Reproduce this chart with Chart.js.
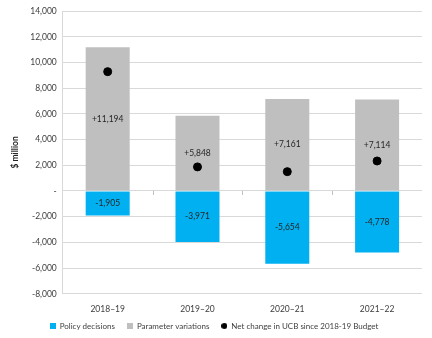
<!DOCTYPE html>
<html>
<head>
<meta charset="utf-8">
<script src="https://cdn.jsdelivr.net/npm/chart.js@4"></script>
<style>
  html, body { margin: 0; padding: 0; background: #fff; }
  #wrap { width: 432px; height: 338px; }
</style>
</head>
<body>
<div id="wrap"><canvas id="myChart" width="432" height="338"></canvas></div>
<script>
var years = ["2018\u201319", "2019\u201320", "2020\u201321", "2021\u201322"];
var policy = [-1905, -3971, -5654, -4778];
var params = [11194, 5848, 7161, 7114];
var netChange = [9289, 1877, 1507, 2336];
var yTicks = { min: -8000, max: 14000, step: 2000 };

var FONT = "Lato, 'Open Sans', sans-serif";

function fmt(v, plus) {
  if (v === 0) return "-";
  var s = Math.abs(v).toLocaleString("en-US");
  if (v < 0) return "-" + s;
  return (plus ? "+" : "") + s;
}

// little marker images for the legend
function marker(color, round) {
  var cv = document.createElement("canvas");
  cv.width = 6; cv.height = 6;
  var g = cv.getContext("2d");
  g.fillStyle = color;
  if (round) {
    g.beginPath();
    g.arc(3, 3, 3, 0, Math.PI * 2);
    g.fill();
  } else {
    g.fillRect(0, 0, 6, 6);
  }
  return cv;
}
var markers = [marker("#00B0F0"), marker("#BFBFBF"), marker("#000", true)];

// pull the legend up a bit, excel leaves less room under it
var legendShift = {
  id: "legendShift",
  afterLayout: function (chart) {
    if (chart.legend) {
      chart.legend.top -= 6;
      chart.legend.bottom -= 6;
    }
  }
};

// draws the numbers inside the bars and small ticks on the zero line
var barLabels = {
  id: "barLabels",
  afterDatasetsDraw: function (chart) {
    var c = chart.ctx;
    var y = chart.scales.y, x = chart.scales.x;
    c.save();
    var y0 = y.getPixelForValue(0);
    c.strokeStyle = "#BFBFBF";
    c.lineWidth = 1;
    for (var i = 1; i < years.length; i++) {
      var xb = (x.getPixelForValue(i - 1) + x.getPixelForValue(i)) / 2;
      c.beginPath();
      c.moveTo(Math.round(xb) + 0.5, y0);
      c.lineTo(Math.round(xb) + 0.5, y0 + 4);
      c.stroke();
    }
    c.font = "8.5px " + FONT;
    c.fillStyle = "#262626";
    c.textAlign = "center";
    c.textBaseline = "middle";
    [0, 1].forEach(function (d) {
      var meta = chart.getDatasetMeta(d);
      meta.data.forEach(function (bar, i) {
        var v = chart.data.datasets[d].data[i];
        var mid = (bar.y + bar.base) / 2;
        c.fillText(fmt(v, true), bar.x, mid);
      });
    });
    c.restore();
  }
};

var ctx = document.getElementById("myChart").getContext("2d");
var myChart = new Chart(ctx, {
  type: "bar",
  data: {
    labels: years,
    datasets: [
      {
        label: "Policy decisions",
        data: policy,
        backgroundColor: "#00B0F0",
        barPercentage: 0.98,
        categoryPercentage: 0.5,
        order: 1,
      },
      {
        label: "Parameter variations",
        data: params,
        backgroundColor: "#BFBFBF",
        barPercentage: 0.98,
        categoryPercentage: 0.5,
        order: 1,
      },
      {
        type: "line",
        label: "Net change in UCB since 2018-19 Budget",
        data: netChange,
        showLine: false,
        stack: "net",
        pointRadius: 4,
        pointHoverRadius: 4,
        pointBackgroundColor: "#000",
        pointBorderColor: "#000",
        backgroundColor: "#000",
        borderColor: "#000",
        order: 0,
      },
    ],
  },
  plugins: [barLabels, legendShift],
  options: {
    responsive: false,
    animation: false,
    layout: { padding: { left: 6, right: 10, top: 4, bottom: -8 } },
    scales: {
      x: {
        stacked: true,
        grid: { display: false },
        border: { display: false },
        ticks: {
          color: "#404040",
          font: { family: FONT, size: 8.5 },
          padding: 2,
        },
      },
      y: {
        stacked: true,
        min: yTicks.min,
        max: yTicks.max,
        ticks: {
          stepSize: yTicks.step,
          color: "#404040",
          font: { family: FONT, size: 8.5 },
          padding: 6,
          callback: function (v) { return fmt(v, false); },
        },
        grid: { color: "#D9D9D9", drawTicks: false },
        border: { color: "#D9D9D9" },
        title: {
          display: true,
          text: "$ million",
          color: "#262626",
          font: { family: FONT, size: 8.5, weight: "bold" },
          padding: 4,
        },
      },
    },
    plugins: {
      legend: {
        position: "bottom",
        labels: {
          usePointStyle: true,
          boxWidth: 6,
          boxHeight: 6,
          padding: 12,
          color: "#404040",
          font: { family: FONT, size: 8 },
          sort: function (a, b) { return a.datasetIndex - b.datasetIndex; },
          generateLabels: function (chart) {
            var items = Chart.defaults.plugins.legend.labels.generateLabels(chart);
            items.forEach(function (it) {
              it.pointStyle = markers[it.datasetIndex];
              it.lineWidth = 0;
            });
            return items;
          },
        },
      },
      tooltip: { enabled: false },
    },
  },
});
</script>
</body>
</html>
